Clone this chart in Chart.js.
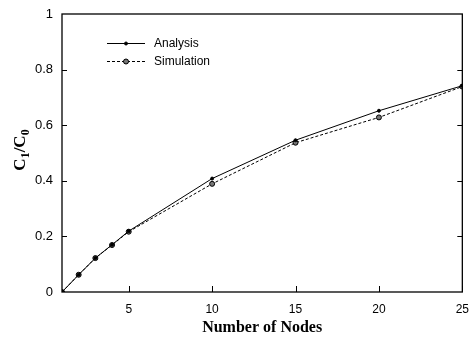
<!DOCTYPE html>
<html>
<head>
<meta charset="utf-8">
<script src="https://cdn.jsdelivr.net/npm/chart.js@4.4.1/dist/chart.umd.min.js"></script>
<style>
  html, body { margin: 0; padding: 0; background: #fff; }
  #wrap { width: 471px; height: 337px; }
</style>
</head>
<body>
<div id="wrap"><canvas id="nodesChart" width="471" height="337"></canvas></div>
<script>
// Node counts and the two ratio curves
const nodes = [1, 2, 3, 4, 5, 10, 15, 20, 25];
const analysis = [0, 0.062, 0.122, 0.170, 0.219, 0.408, 0.546, 0.652, 0.742];
const simulation = [0, 0.062, 0.122, 0.169, 0.217, 0.389, 0.537, 0.628, 0.739];
const xTicks = [5, 10, 15, 20, 25];
const yTicks = [0, 0.2, 0.4, 0.6, 0.8, 1];
const seriesNames = ['Analysis', 'Simulation'];

const toPoints = vals => nodes.map((n, i) => ({ x: n, y: vals[i] }));

// Box around the plot, inward tick marks, y title with subscripts, legend
const framePlugin = {
    id: 'frame',
    afterDraw(chart) {
        const ctx = chart.ctx;
        const area = chart.chartArea;
        const xs = chart.scales.x;
        const ys = chart.scales.y;
        ctx.save();
        ctx.strokeStyle = '#000';
        ctx.lineWidth = 1.3;
        ctx.strokeRect(area.left, area.top, area.right - area.left, area.bottom - area.top);

        ctx.lineWidth = 1;
        ctx.beginPath();
        xTicks.forEach(v => {
            const px = Math.round(xs.getPixelForValue(v)) + 0.5;
            ctx.moveTo(px, area.bottom);
            ctx.lineTo(px, area.bottom - 6);
        });
        yTicks.slice(1, -1).forEach(v => {
            const py = Math.round(ys.getPixelForValue(v)) + 0.5;
            ctx.moveTo(area.left, py);
            ctx.lineTo(area.left + 5, py);
            ctx.moveTo(area.right, py);
            ctx.lineTo(area.right - 5, py);
        });
        ctx.stroke();

        // y axis title: C1/C0
        ctx.save();
        ctx.translate(25, (area.top + area.bottom) / 2 - 3);
        ctx.rotate(-Math.PI / 2);
        ctx.fillStyle = '#000';
        ctx.textBaseline = 'alphabetic';
        const big = 'bold 17px "Liberation Serif", "Times New Roman", serif';
        const small = 'bold 12px "Liberation Serif", "Times New Roman", serif';
        const parts = [['C', big, 0], ['1', small, 4], ['/C', big, 0], ['0', small, 4]];
        let total = 0;
        parts.forEach(p => { ctx.font = p[1]; total += ctx.measureText(p[0]).width; });
        let cx = -total / 2;
        parts.forEach(p => {
            ctx.font = p[1];
            ctx.fillText(p[0], cx, p[2]);
            cx += ctx.measureText(p[0]).width;
        });
        ctx.restore();

        // legend
        ctx.font = '12px "Liberation Sans", Arial, sans-serif';
        ctx.textBaseline = 'middle';
        chart.data.datasets.forEach((ds, i) => {
            const y = 43 + i * 18 + 0.5;
            ctx.strokeStyle = ds.borderColor;
            ctx.lineWidth = 1;
            ctx.setLineDash(ds.borderDash || []);
            ctx.beginPath();
            ctx.moveTo(107, y);
            ctx.lineTo(145, y);
            ctx.stroke();
            ctx.setLineDash([]);
            ctx.beginPath();
            ctx.arc(126, y, ds.pointRadius, 0, Math.PI * 2);
            ctx.fillStyle = ds.pointBackgroundColor;
            ctx.fill();
            ctx.strokeStyle = ds.pointBorderColor;
            ctx.stroke();
            ctx.fillStyle = '#000';
            ctx.fillText(seriesNames[i], 154, y);
        });
        ctx.restore();
    }
};

const ctx = document.getElementById('nodesChart').getContext('2d');
const nodesChart = new Chart(ctx, {
    type: 'scatter',
    data: {
        datasets: [{
            label: seriesNames[0],
            data: toPoints(analysis),
            showLine: true,
            borderColor: '#000',
            borderWidth: 1,
            pointRadius: 1.5,
            pointBackgroundColor: '#000',
            pointBorderColor: '#000',
            pointBorderWidth: 1
        }, {
            label: seriesNames[1],
            data: toPoints(simulation),
            showLine: true,
            borderColor: '#000',
            borderWidth: 1,
            borderDash: [3, 2],
            pointRadius: 2.5,
            pointBackgroundColor: '#777',
            pointBorderColor: '#000',
            pointBorderWidth: 1
        }]
    },
    options: {
        responsive: false,
        animation: false,
        layout: { padding: { top: 14, right: 5, left: 0, bottom: 0 } },
        plugins: {
            legend: { display: false },
            tooltip: { enabled: false }
        },
        scales: {
            x: {
                type: 'linear',
                min: 1,
                max: 25,
                afterBuildTicks: scale => { scale.ticks = xTicks.map(v => ({ value: v })); },
                afterFit: scale => { scale.height = 45; },
                grid: { display: false },
                border: { display: false },
                ticks: {
                    color: '#000',
                    padding: 2,
                    maxRotation: 0,
                    font: { family: '"Liberation Sans", Arial, sans-serif', size: 12 }
                },
                title: {
                    display: true,
                    text: 'Number of Nodes',
                    color: '#000',
                    padding: { top: 4, bottom: 0 },
                    font: { family: '"Liberation Serif", "Times New Roman", serif', size: 16, weight: 'bold' }
                }
            },
            y: {
                min: 0,
                max: 1,
                afterBuildTicks: scale => { scale.ticks = yTicks.map(v => ({ value: v })); },
                afterFit: scale => { scale.width = 62; },
                grid: { display: false },
                border: { display: false },
                ticks: {
                    color: '#000',
                    padding: 1,
                    callback: v => String(Math.round(v * 10) / 10),
                    font: { family: '"Liberation Sans", Arial, sans-serif', size: 13 }
                }
            }
        }
    },
    plugins: [framePlugin]
});
</script>
</body>
</html>
